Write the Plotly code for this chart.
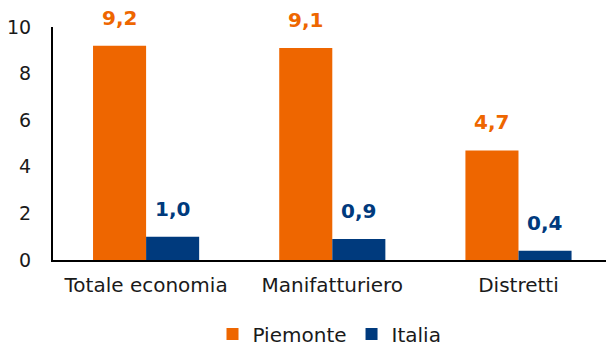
import plotly.graph_objects as go

categories = ["Totale economia", "Manifatturiero", "Distretti"]
piemonte = [9.2, 9.1, 4.7]
italia = [1.0, 0.9, 0.4]
y_ticks = [0, 2, 4, 6, 8, 10]

ORANGE = "#EE6600"
NAVY = "#003A7D"
FONT = "'DejaVu Sans', sans-serif"

fig = go.Figure()
fig.add_trace(go.Bar(name="Piemonte", x=categories, y=piemonte, marker_color=ORANGE,
                     marker_line_width=0))
fig.add_trace(go.Bar(name="Italia", x=categories, y=italia, marker_color=NAVY,
                     marker_line_width=0))

# value labels above each bar
half = 26.5
for cat, v in zip(categories, piemonte):
    fig.add_annotation(x=cat, y=v, xshift=-half, yshift=14, yanchor="bottom",
                       text=f"<b>{v:.1f}</b>".replace(".", ","), showarrow=False,
                       font=dict(family=FONT, size=20, color=ORANGE))
for cat, v in zip(categories, italia):
    fig.add_annotation(x=cat, y=v, xshift=half, yshift=14, yanchor="bottom",
                       text=f"<b>{v:.1f}</b>".replace(".", ","), showarrow=False,
                       font=dict(family=FONT, size=20, color=NAVY))

fig.update_layout(
    width=606, height=348,
    margin=dict(l=53, r=0, t=27, b=88, autoexpand=False),
    paper_bgcolor="white", plot_bgcolor="white",
    barmode="group", bargap=0.43, bargroupgap=0,
    font=dict(family=FONT, size=19, color="#1a1a1a"),
    showlegend=True,
    legend=dict(orientation="h", x=0.5, xanchor="center", y=-0.318, yanchor="middle",
                font=dict(size=20, color="#1a1a1a"), itemwidth=30),
)
fig.update_xaxes(range=[-0.5, 2.47], showline=True, linecolor="black", linewidth=2,
                 ticks="outside", ticklen=6, tickcolor="rgba(0,0,0,0)",
                 tickfont=dict(size=20), showgrid=False)
fig.update_yaxes(range=[0, 10], tickvals=y_ticks, showline=True, linecolor="black",
                 linewidth=2, showgrid=False, zeroline=False,
                 ticks="outside", ticklen=16, tickcolor="rgba(0,0,0,0)",
                 tickfont=dict(size=19))

fig.write_html("out.html")
